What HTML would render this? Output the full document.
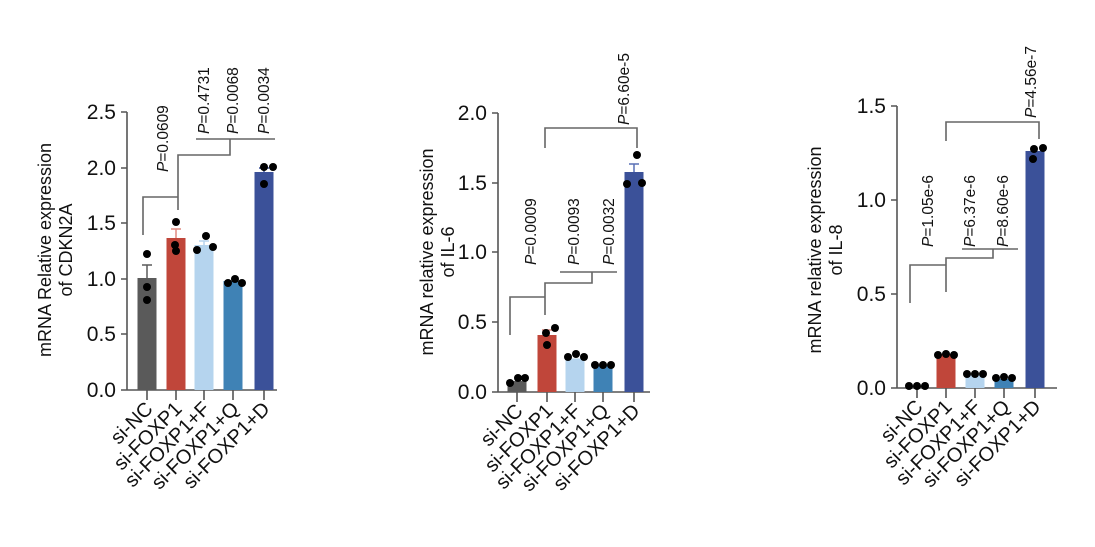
<!DOCTYPE html>
<html><head><meta charset="utf-8"><style>
html,body{margin:0;padding:0;background:#fff}
svg{display:block}
text{font-family:"Liberation Sans",Arial,sans-serif;fill:#111}
.tk{font-size:21px;text-anchor:end}
.xl{font-size:20px;text-anchor:end}
.yt{font-size:18px;text-anchor:middle}
.p{font-size:15.5px}
.ax{stroke:#555;stroke-width:1.6;fill:none}
.br{stroke:#666;stroke-width:1.6;fill:none}
</style></head><body>
<svg width="1095" height="547" viewBox="0 0 1095 547">
<!-- Chart 1 -->
<g>
<text class="yt" transform="translate(51,250) rotate(-90)">mRNA Relative expression</text>
<text class="yt" transform="translate(72,250) rotate(-90)">of CDKN2A</text>
<path class="ax" d="M127,112V390H277M121,112H127M121,168H127M121,223H127M121,279H127M121,334H127M121,390H127M147,390V400M176,390V400M204,390V400M233,390V400M264,390V400"/>
<text class="tk" x="116" y="119">2.5</text><text class="tk" x="116" y="175">2.0</text><text class="tk" x="116" y="230">1.5</text><text class="tk" x="116" y="286">1.0</text><text class="tk" x="116" y="341">0.5</text><text class="tk" x="116" y="397">0.0</text>
<rect x="137.5" y="278" width="19" height="112" fill="#5a5a5a"/>
<rect x="166.5" y="238" width="19" height="152" fill="#c0463a"/>
<rect x="194.5" y="245" width="19" height="145" fill="#b5d4ee"/>
<rect x="223.5" y="281" width="19" height="109" fill="#3f82b5"/>
<rect x="254.5" y="172" width="19" height="218" fill="#3b5199"/>
<path d="M147,278V265M142,265H152" stroke="#5a5a5a" stroke-width="1.5"/>
<path d="M176,238V229M171,229H181" stroke="#e08a80" stroke-width="1.5"/>
<path d="M204,245V241M199,241H209" stroke="#b5d4ee" stroke-width="1.5"/>
<path d="M264,172V168M259,168H269" stroke="#3b5199" stroke-width="1.5"/>
<g fill="#000"><circle cx="147" cy="254" r="4"/><circle cx="147" cy="287" r="4"/><circle cx="147" cy="300" r="4"/>
<circle cx="176" cy="222" r="4"/><circle cx="176" cy="251" r="4"/><circle cx="175" cy="245" r="4"/>
<circle cx="197" cy="250" r="4"/><circle cx="206" cy="236" r="4"/><circle cx="213" cy="247" r="4"/>
<circle cx="228" cy="283" r="4"/><circle cx="235" cy="279" r="4"/><circle cx="242" cy="283" r="4"/>
<circle cx="264" cy="184" r="4"/><circle cx="264" cy="167" r="4"/><circle cx="273" cy="167" r="4"/></g>
<path class="br" d="M143,235V197H178V210M178,197V155H230V139M196,139H275"/>
<text class="p" transform="translate(168,172) rotate(-90)"><tspan font-style="italic">P</tspan>=0.0609</text>
<text class="p" transform="translate(209,134) rotate(-90)"><tspan font-style="italic">P</tspan>=0.4731</text>
<text class="p" transform="translate(238,134) rotate(-90)"><tspan font-style="italic">P</tspan>=0.0068</text>
<text class="p" transform="translate(269,134) rotate(-90)"><tspan font-style="italic">P</tspan>=0.0034</text>
<text class="xl" transform="translate(154,410) rotate(-45)">si-NC</text>
<text class="xl" transform="translate(183,410) rotate(-45)">si-FOXP1</text>
<text class="xl" transform="translate(211,410) rotate(-45)">si-FOXP1+F</text>
<text class="xl" transform="translate(240,410) rotate(-45)">si-FOXP1+Q</text>
<text class="xl" transform="translate(271,410) rotate(-45)">si-FOXP1+D</text>
</g>
<!-- Chart 2 -->
<g>
<text class="yt" transform="translate(433,252) rotate(-90)">mRNA relative expression</text>
<text class="yt" transform="translate(454,252) rotate(-90)">of IL-6</text>
<path class="ax" d="M498,113V392H650M492,113H498M492,183H498M492,252H498M492,322H498M492,392H498M517,392V402M547,392V402M575,392V402M603,392V402M634,392V402"/>
<text class="tk" x="487" y="120">2.0</text><text class="tk" x="487" y="190">1.5</text><text class="tk" x="487" y="259">1.0</text><text class="tk" x="487" y="329">0.5</text><text class="tk" x="487" y="399">0.0</text>
<rect x="507.5" y="381" width="19" height="11" fill="#5a5a5a"/>
<rect x="537.5" y="335" width="19" height="57" fill="#c0463a"/>
<rect x="565.5" y="358.5" width="19" height="33.5" fill="#b5d4ee"/>
<rect x="593.5" y="365.5" width="19" height="26.5" fill="#3f82b5"/>
<rect x="624.5" y="172" width="19" height="220" fill="#3b5199"/>
<path d="M547,335V330M542,330H552" stroke="#e08a80" stroke-width="1.5"/>
<path d="M634,172V164M629,164H639" stroke="#5a70b5" stroke-width="1.5"/>
<g fill="#000"><circle cx="510" cy="383" r="4"/><circle cx="518" cy="378" r="4"/><circle cx="525" cy="378" r="4"/>
<circle cx="547" cy="345" r="4"/><circle cx="546" cy="333" r="4"/><circle cx="555" cy="328" r="4"/>
<circle cx="568" cy="357" r="4"/><circle cx="576" cy="354" r="4"/><circle cx="584" cy="357" r="4"/>
<circle cx="595" cy="365" r="4"/><circle cx="603" cy="365" r="4"/><circle cx="611" cy="365" r="4"/>
<circle cx="627" cy="184" r="4"/><circle cx="637" cy="155" r="4"/><circle cx="642" cy="183" r="4"/></g>
<path class="br" d="M510,335V297H545V315M545,297V283H592V272M560,272H617"/>
<path class="br" d="M545,148V128H637V148"/>
<text class="p" transform="translate(536,265) rotate(-90)"><tspan font-style="italic">P</tspan>=0.0009</text>
<text class="p" transform="translate(579,265) rotate(-90)"><tspan font-style="italic">P</tspan>=0.0093</text>
<text class="p" transform="translate(614,265) rotate(-90)"><tspan font-style="italic">P</tspan>=0.0032</text>
<text class="p" transform="translate(629,125) rotate(-90)"><tspan font-style="italic">P</tspan>=6.60e-5</text>
<text class="xl" transform="translate(524,412) rotate(-45)">si-NC</text>
<text class="xl" transform="translate(554,412) rotate(-45)">si-FOXP1</text>
<text class="xl" transform="translate(582,412) rotate(-45)">si-FOXP1+F</text>
<text class="xl" transform="translate(610,412) rotate(-45)">si-FOXP1+Q</text>
<text class="xl" transform="translate(641,412) rotate(-45)">si-FOXP1+D</text>
</g>
<!-- Chart 3 -->
<g>
<text class="yt" transform="translate(821,250) rotate(-90)">mRNA relative expression</text>
<text class="yt" transform="translate(842,250) rotate(-90)">of IL-8</text>
<path class="ax" d="M897,106V388H1057M891,106H897M891,200H897M891,294H897M891,388H897M917,388V398M946,388V398M975,388V398M1004,388V398M1035,388V398"/>
<text class="tk" x="886" y="113">1.5</text><text class="tk" x="886" y="207">1.0</text><text class="tk" x="886" y="301">0.5</text><text class="tk" x="886" y="395">0.0</text>
<rect x="907.5" y="386" width="19" height="2" fill="#5a5a5a"/>
<rect x="936.5" y="354" width="19" height="34" fill="#c0463a"/>
<rect x="965.5" y="375" width="19" height="13" fill="#b5d4ee"/>
<rect x="994.5" y="379" width="19" height="9" fill="#3f82b5"/>
<rect x="1025.5" y="151" width="19" height="237" fill="#3b5199"/>
<g fill="#000"><circle cx="909" cy="386" r="4"/><circle cx="917" cy="386" r="4"/><circle cx="925" cy="386" r="4"/>
<circle cx="938" cy="355" r="4"/><circle cx="946" cy="354" r="4"/><circle cx="954" cy="355" r="4"/>
<circle cx="967" cy="374" r="4"/><circle cx="975" cy="374" r="4"/><circle cx="983" cy="374" r="4"/>
<circle cx="996" cy="378" r="4"/><circle cx="1004" cy="377" r="4"/><circle cx="1012" cy="378" r="4"/>
<circle cx="1033" cy="159" r="4"/><circle cx="1034" cy="149" r="4"/><circle cx="1043" cy="148" r="4"/></g>
<path class="br" d="M910,303V265H946V292M946,265V258H993V249M962,249H1018"/>
<path class="br" d="M946,141V122H1039V139"/>
<text class="p" transform="translate(933,247) rotate(-90)"><tspan font-style="italic">P</tspan>=1.05e-6</text>
<text class="p" transform="translate(975,247) rotate(-90)"><tspan font-style="italic">P</tspan>=6.37e-6</text>
<text class="p" transform="translate(1008,247) rotate(-90)"><tspan font-style="italic">P</tspan>=8.60e-6</text>
<text class="p" transform="translate(1036,118) rotate(-90)"><tspan font-style="italic">P</tspan>=4.56e-7</text>
<text class="xl" transform="translate(924,408) rotate(-45)">si-NC</text>
<text class="xl" transform="translate(953,408) rotate(-45)">si-FOXP1</text>
<text class="xl" transform="translate(982,408) rotate(-45)">si-FOXP1+F</text>
<text class="xl" transform="translate(1011,408) rotate(-45)">si-FOXP1+Q</text>
<text class="xl" transform="translate(1042,408) rotate(-45)">si-FOXP1+D</text>
</g>
</svg>
</body></html>
